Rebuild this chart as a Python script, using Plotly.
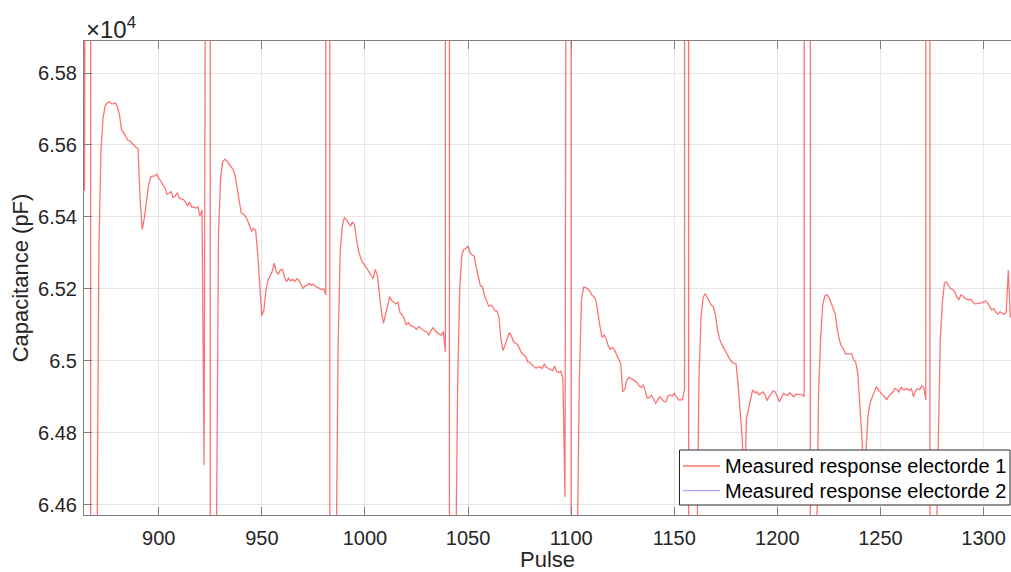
import plotly.graph_objects as go

# ---- data: capacitance (pF) per pulse, electrode 1 (split by pulse segments) ----
start_863 = 863
cap_863 = [66280, 65474, 68000, 2000000, 40000, 40000, 40000, 64400, 65317, 65586,
           65674, 65708, 65717, 65720, 65715, 65714, 65717, 65706, 65683, 65641,
           65634, 65621, 65613, 65611, 65606, 65600, 65593, 65590, 65447, 65365,
           65396, 65447, 65484, 65510, 65513, 65513, 65519, 65507, 65500, 65488,
           65482, 65463, 65465, 65470, 65454, 65458, 65467, 65452, 65450, 65448,
           65442, 65430, 65441, 65426, 65428, 65424, 65428, 65402, 65419]

start_922 = 922
cap_922 = [64710, 67000, 2000000, 40000, 40000, 40000, 64500, 65350, 65507, 65553,
           65560, 65556, 65547, 65541, 65532, 65516, 65484, 65442, 65411, 65408,
           65402, 65391, 65377, 65361, 65368, 65363, 65298, 65215, 65125, 65141,
           65196, 65224, 65238, 65247, 65271, 65247, 65241, 65252, 65254, 65232,
           65220, 65229, 65222, 65226, 65220, 65228, 65224, 65213, 65201, 65208,
           65210, 65215, 65210, 65213, 65206, 65204, 65201, 65198, 65200]

start_981 = 981
cap_981 = [65183, 2000000, 40000, 40000, 40000, 64400, 65039, 65303, 65373, 65398,
           65393, 65384, 65374, 65386, 65377, 65335, 65303, 65285, 65272, 65265,
           65257, 65247, 65237, 65228, 65254, 65238, 65187, 65136, 65104, 65132,
           65152, 65178, 65167, 65163, 65158, 65163, 65134, 65128, 65118, 65099,
           65106, 65098, 65096, 65093, 65087, 65095, 65091, 65085, 65082, 65080,
           65071, 65083, 65092, 65083, 65078, 65074, 65071, 65081, 65025]

start_1040 = 1040
cap_1040 = [2000000, 40000, 40000, 40000, 64400, 64946, 65206, 65294, 65310, 65312,
            65319, 65300, 65294, 65291, 65259, 65229, 65208, 65206, 65180, 65167,
            65152, 65154, 65150, 65139, 65138, 65122, 65057, 65028, 65046, 65065,
            65078, 65069, 65054, 65048, 65046, 65033, 65022, 65016, 65011, 64997,
            64996, 64988, 64983, 64979, 64983, 64982, 64978, 64991, 64982, 64979,
            64976, 64972, 64985, 64970, 64967, 64971, 64950, 64622]

start_1098 = 1098
cap_1098 = [67500, 2000000, 40000, 40000, 40000, 64480, 64956, 65169, 65204, 65204,
            65200, 65194, 65183, 65178, 65169, 65124, 65095, 65065, 65071, 65061,
            65041, 65032, 65037, 65030, 65014, 65004, 64993, 64914, 64920, 64946,
            64954, 64951, 64946, 64944, 64939, 64930, 64926, 64932, 64914, 64896,
            64898, 64904, 64893, 64882, 64891, 64900, 64893, 64886, 64886, 64902,
            64905, 64902, 64909, 64900, 64891, 64891, 64891, 64923]

start_1156 = 1156
cap_1156 = [2000000, 40000, 40000, 40000, 40000, 64450, 64956, 65122, 65176, 65187,
            65176, 65161, 65154, 65150, 65127, 65085, 65060, 65046, 65034, 65025,
            65014, 65004, 64996, 64993, 64991, 64932, 64863, 64780, 64620, 64840,
            64865, 64895, 64919, 64911, 64914, 64905, 64909, 64913, 64905, 64889,
            64900, 64909, 64916, 64913, 64898, 64886, 64898, 64909, 64905, 64904,
            64911, 64906, 64900, 64907, 64907, 64906, 64906, 64900]

start_1214 = 1214
cap_1214 = [2000000, 2000000, 40000, 40000, 40000, 64450, 64909, 65067, 65155, 65180,
            65184, 65176, 65161, 65147, 65132, 65090, 65059, 65041, 65034, 65019,
            65019, 65021, 65019, 65002, 64996, 64965, 64872, 64789, 64650, 64760,
            64849, 64883, 64898, 64909, 64928, 64919, 64911, 64905, 64900, 64891,
            64902, 64907, 64913, 64923, 64920, 64913, 64926, 64919, 64920, 64922,
            64917, 64922, 64900, 64917, 64922, 64919, 64930, 64926, 64891]

start_1273 = 1273
cap_1273 = [2000000, 40000, 40000, 40000, 64450, 64760, 65058, 65160, 65215, 65219,
            65210, 65200, 65198, 65192, 65178, 65169, 65183, 65180, 65173, 65171,
            65169, 65171, 65161, 65158, 65160, 65160, 65161, 65164, 65166, 65160,
            65152, 65141, 65145, 65134, 65130, 65136, 65132, 65129, 65136, 65252,
            65122, 65118]

# electrode 2 has no samples inside the visible window
pulse_e2 = [None]
cap_e2 = [None]

x_ticks = [900, 950, 1000, 1050, 1100, 1150, 1200, 1250, 1300]
y_ticks = [64600, 64800, 65000, 65200, 65400, 65600, 65800]
y_tick_text = ["6.46", "6.48", "6.5", "6.52", "6.54", "6.56", "6.58"]

series_names = ["Measured response electorde 1", "Measured response electorde 2"]
series_colors = ["rgba(255,0,0,0.55)", "rgba(0,0,255,0.35)"]

segments = [(start_863, cap_863), (start_922, cap_922), (start_981, cap_981),
            (start_1040, cap_1040), (start_1098, cap_1098), (start_1156, cap_1156),
            (start_1214, cap_1214), (start_1273, cap_1273)]
pulses, caps = [], []
for s, vals in segments:
    pulses.extend(range(s, s + len(vals)))
    caps.extend(vals)

FONT = "Liberation Sans, Arial, Helvetica, sans-serif"
AX = "#262626"

fig = go.Figure()
fig.add_trace(go.Scatter(x=pulses, y=caps, mode="lines", name=series_names[0],
                         line=dict(color=series_colors[0], width=1.3)))
fig.add_trace(go.Scatter(x=pulse_e2, y=cap_e2, mode="lines", name=series_names[1],
                         line=dict(color=series_colors[1], width=1.3)))

# ---- hand-drawn MATLAB-style legend (paper coordinates) ----
W, L, T, B = 1011, 84, 41, 515
def px(x):
    return (x - L) / (W - L)
def py(y):
    return (B - y) / (B - T)

shapes = [dict(type="rect", xref="paper", yref="paper", layer="above",
               x0=px(679.5), x1=px(1010), y0=py(505), y1=py(450),
               fillcolor="white", line=dict(color=AX, width=1))]
annotations = []
for i, (nm, col) in enumerate(zip(series_names, series_colors)):
    yy = py(466 + i * 24.7)
    shapes.append(dict(type="line", xref="paper", yref="paper", layer="above",
                       x0=px(683), x1=px(720), y0=yy, y1=yy,
                       line=dict(color=col, width=1.3)))
    annotations.append(dict(text=nm, x=px(723), xref="paper", xanchor="left",
                            y=yy, yref="paper", yanchor="middle", showarrow=False,
                            font=dict(size=20, color="#000000")))

annotations.append(dict(text="×10<sup>4</sup>", x=0, xref="paper", xanchor="left",
                        y=1, yref="paper", yanchor="bottom", showarrow=False,
                        font=dict(size=24, color=AX), xshift=0, yshift=-4))

fig.update_layout(
    width=1011, height=572,
    margin=dict(l=84, r=0, t=41, b=57),
    paper_bgcolor="white", plot_bgcolor="white",
    font=dict(family=FONT, color=AX, size=20),
    showlegend=False,
    xaxis=dict(range=[863.77, 1313.3], tickvals=x_ticks, ticks="inside", ticklen=8,
               tickcolor="#808080", showline=True, linecolor="#808080", linewidth=1,
               mirror="ticks", showgrid=True, gridcolor="#e6e6e6", zeroline=False,
               tickfont=dict(size=20, color=AX), ticklabelstandoff=5, automargin=False,
               title=dict(text="Pulse", font=dict(size=22, color=AX), standoff=12)),
    yaxis=dict(range=[64571, 65889], tickvals=y_ticks, ticktext=y_tick_text,
               ticks="inside", ticklen=8, tickcolor="#808080", showline=True,
               linecolor="#808080", linewidth=1, mirror=False, showgrid=True,
               gridcolor="#e6e6e6", zeroline=False, tickfont=dict(size=20, color=AX),
               ticklabelstandoff=2, automargin=False,
               title=dict(text="Capacitance (pF)", font=dict(size=22, color=AX), standoff=3)),
    shapes=shapes,
    annotations=annotations,
)

fig.write_html("out.html")
